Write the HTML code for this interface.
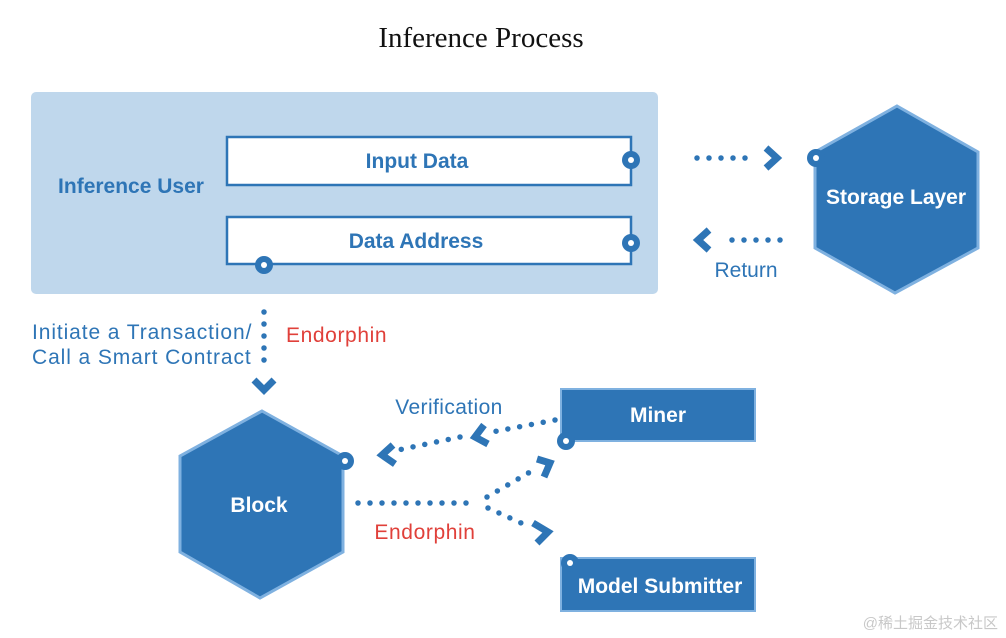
<!DOCTYPE html>
<html><head><meta charset="utf-8"><style>
html,body{margin:0;padding:0;background:#fff;width:1006px;height:638px;overflow:hidden}
svg{display:block}
</style></head><body>
<svg width="1006" height="638" viewBox="0 0 1006 638" xmlns="http://www.w3.org/2000/svg">
<text x="481" y="47" text-anchor="middle" font-family="Liberation Serif, serif" font-size="29" fill="#111">Inference Process</text>
<rect x="31" y="92" width="627" height="202" rx="5" fill="#bfd7ec"/>
<text x="131" y="193" text-anchor="middle" font-family="Liberation Sans, sans-serif" font-weight="bold" font-size="21" fill="#2e75b6">Inference User</text>
<rect x="227" y="137" width="404" height="48" fill="#fff" stroke="#2e75b6" stroke-width="2.5"/>
<text x="417" y="168" text-anchor="middle" font-family="Liberation Sans, sans-serif" font-weight="bold" font-size="21" fill="#2e75b6">Input Data</text>
<rect x="227" y="217" width="404" height="47" fill="#fff" stroke="#2e75b6" stroke-width="2.5"/>
<text x="416" y="248" text-anchor="middle" font-family="Liberation Sans, sans-serif" font-weight="bold" font-size="21" fill="#2e75b6">Data Address</text>
<g fill="#2e75b6"><circle cx="631" cy="160" r="9"/><circle cx="631" cy="243" r="9"/><circle cx="264" cy="265" r="9"/></g>
<g fill="#fff"><circle cx="631" cy="160" r="3"/><circle cx="631" cy="243" r="3"/><circle cx="264" cy="265" r="3"/></g>

<polygon points="897,106 978,152 978,248 895,293 815,248 815,152" fill="#2e75b6" stroke="#7fb1e0" stroke-width="3"/>
<text x="896" y="204" text-anchor="middle" font-family="Liberation Sans, sans-serif" font-weight="bold" font-size="21" fill="#fff">Storage Layer</text>
<circle cx="816" cy="158" r="9" fill="#2e75b6"/><circle cx="816" cy="158" r="3" fill="#fff"/>

<polygon points="262,411 343,456 343,552 260,598 180,552 180,456" fill="#2e75b6" stroke="#7fb1e0" stroke-width="3"/>
<text x="259" y="512" text-anchor="middle" font-family="Liberation Sans, sans-serif" font-weight="bold" font-size="21" fill="#fff">Block</text>
<circle cx="345" cy="461" r="9" fill="#2e75b6"/><circle cx="345" cy="461" r="3" fill="#fff"/>

<rect x="561" y="389" width="194" height="52" fill="#2e75b6" stroke="#7fb1e0" stroke-width="2"/>
<text x="658" y="422" text-anchor="middle" font-family="Liberation Sans, sans-serif" font-weight="bold" font-size="21" fill="#fff">Miner</text>
<circle cx="566" cy="441" r="9" fill="#2e75b6"/><circle cx="566" cy="441" r="3" fill="#fff"/>
<rect x="561" y="558" width="194" height="53" fill="#2e75b6" stroke="#7fb1e0" stroke-width="2"/>
<text x="660" y="593" text-anchor="middle" font-family="Liberation Sans, sans-serif" font-weight="bold" font-size="21" fill="#fff">Model Submitter</text>
<circle cx="570" cy="563" r="9" fill="#2e75b6"/><circle cx="570" cy="563" r="3" fill="#fff"/>

<g stroke="#2e75b6" stroke-width="5.5" stroke-linecap="round" fill="none" stroke-dasharray="0 12">
<path d="M697,158 L757,158"/>
<path d="M780,240 L720,240"/>
<path d="M264,312 L264,372"/>
<path d="M555,420 L492,432"/>
<path d="M460,437 L398,450"/>
<path d="M358,503 L478,503"/>
<path d="M487,497 L530,472"/>
<path d="M488,508 L530,527"/>
</g>
<g stroke="#2e75b6" stroke-width="7" fill="none" stroke-linejoin="miter">
<polyline points="766,148 777,158 766,168"/>
<polyline points="709,230 698,240 709,250"/>
<polyline points="254,380 264,390 274,380"/>
<polyline points="484,425 475,437 488,444"/>
<polyline points="393,445 382,455 395,464"/>
<polyline points="537,459 550,463 544,477"/>
<polyline points="533,523 548,532 537,543"/>
</g>
<text x="746" y="277" text-anchor="middle" font-family="Liberation Sans, sans-serif" font-size="21" fill="#2e75b6">Return</text>
<text x="32" y="339" font-family="Liberation Sans, sans-serif" font-size="21" letter-spacing="0.9" fill="#2e75b6">Initiate a Transaction/</text>
<text x="32" y="364" font-family="Liberation Sans, sans-serif" font-size="21" letter-spacing="0.9" fill="#2e75b6">Call a Smart Contract</text>
<text x="286" y="342" font-family="Liberation Sans, sans-serif" font-size="21" letter-spacing="0.6" fill="#e0403a">Endorphin</text>
<text x="449" y="414" text-anchor="middle" font-family="Liberation Sans, sans-serif" font-size="21" letter-spacing="0.4" fill="#2e75b6">Verification</text>
<text x="425" y="539" text-anchor="middle" font-family="Liberation Sans, sans-serif" font-size="21" letter-spacing="0.6" fill="#e0403a">Endorphin</text>
<text x="998" y="628" text-anchor="end" font-family="Liberation Sans, 'Noto Sans CJK SC', sans-serif" font-size="15" fill="#c8c8c8">@稀土掘金技术社区</text>
</svg>
</body></html>
